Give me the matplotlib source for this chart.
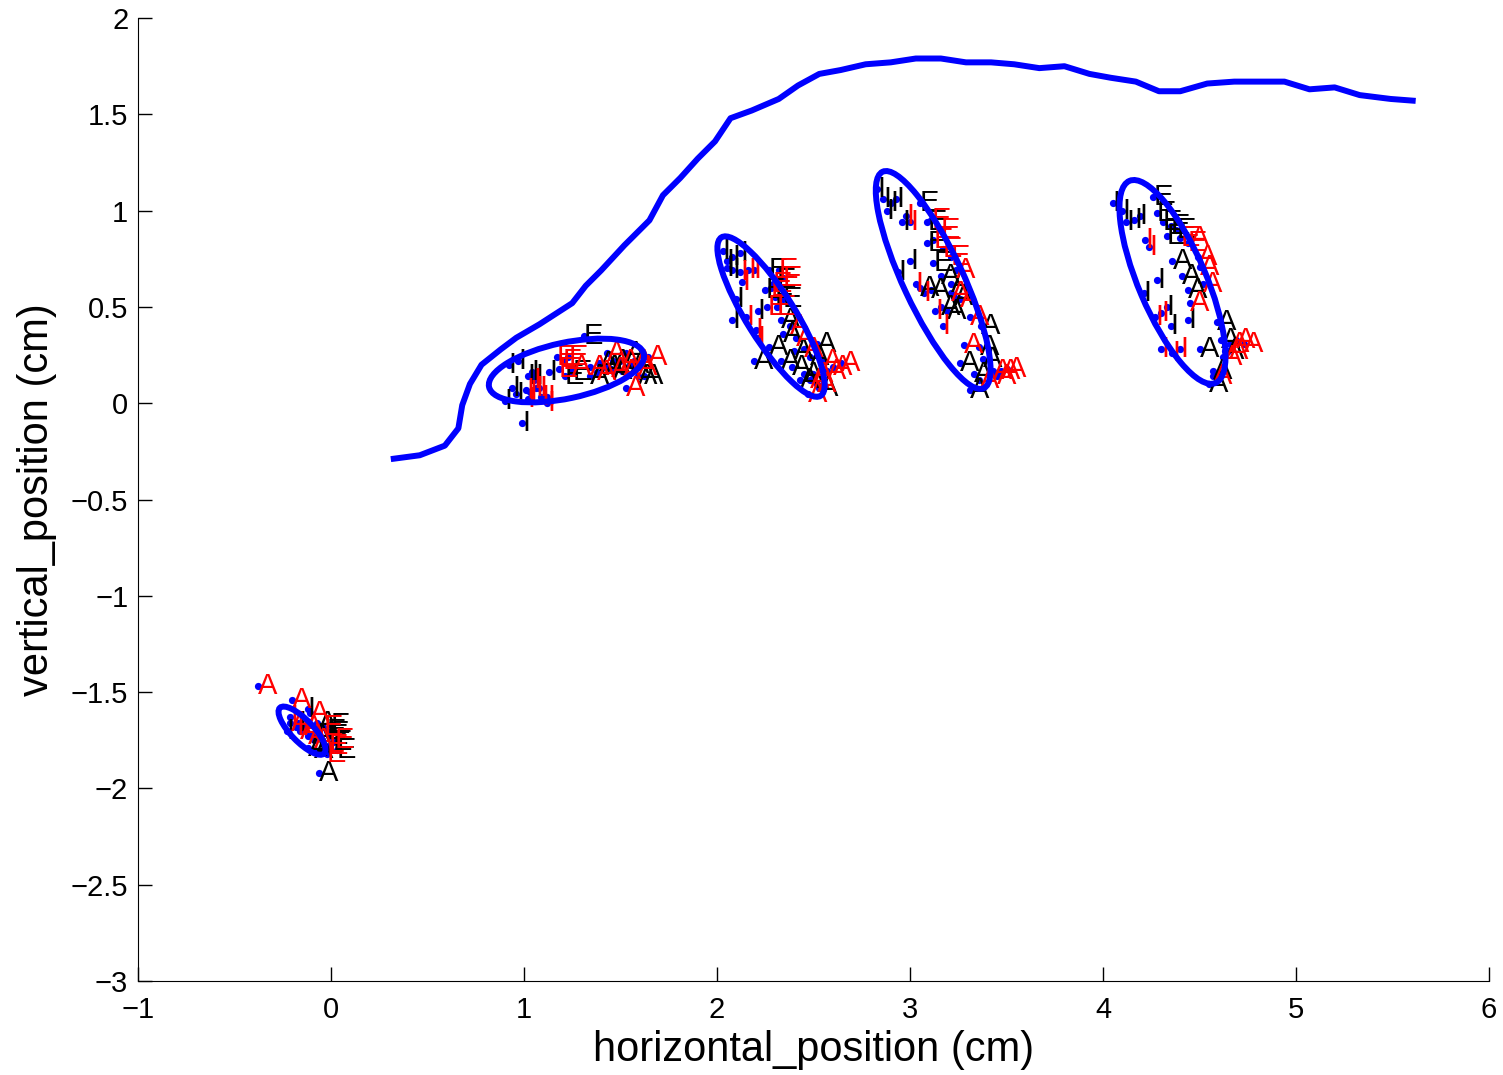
import matplotlib.pyplot as plt
from matplotlib.patches import Ellipse

plt.rcParams['font.family'] = ['Liberation Sans', 'DejaVu Sans']

# blue trace (cm)
trace_x = [0.31, 0.46, 0.59, 0.66, 0.68, 0.72, 0.78, 0.88, 0.96, 1.08, 1.25, 1.32,
           1.40, 1.52, 1.65, 1.72, 1.81, 1.90, 1.99, 2.07, 2.18, 2.32, 2.42, 2.53,
           2.64, 2.77, 2.90, 3.03, 3.16, 3.29, 3.42, 3.54, 3.67, 3.80, 3.93, 4.04,
           4.17, 4.29, 4.40, 4.54, 4.68, 4.81, 4.94, 5.07, 5.20, 5.33, 5.49, 5.62]
trace_y = [-0.29, -0.27, -0.22, -0.13, -0.01, 0.10, 0.20, 0.28, 0.34, 0.41, 0.52, 0.61,
           0.69, 0.82, 0.95, 1.08, 1.17, 1.27, 1.36, 1.48, 1.52, 1.58, 1.65, 1.71,
           1.73, 1.76, 1.77, 1.79, 1.79, 1.77, 1.77, 1.76, 1.74, 1.75, 1.71, 1.69,
           1.67, 1.62, 1.62, 1.66, 1.67, 1.67, 1.67, 1.63, 1.64, 1.60, 1.58, 1.57]

# token positions, first condition (black)
black_x = [0.90, 0.97, 0.99, 1.02, 1.04, 0.94, 1.06, 1.13, 0.92, 0.96,
           1.31, 1.21, 1.25,
           1.39, 1.46, 1.53, 1.59, 1.34, 1.46, 1.62, 1.42, 1.55,
           2.03, 2.05, 2.08, 2.12, 2.08, 2.10, 2.08, 2.21, 2.05,
           2.27, 2.31, 2.34, 2.25, 2.30,
           2.33, 2.34, 2.27, 2.19, 2.33, 2.39, 2.43, 2.52, 2.48, 2.53, 2.45, 2.40,
           2.83, 2.86, 2.90, 2.93, 2.96, 3.00, 2.94, 2.88,
           3.05, 3.09, 3.09, 3.12,
           3.05, 3.11, 3.16, 3.21, 3.16, 3.19, 3.37, 3.36, 3.38, 3.26, 3.31, 3.33, 3.23,
           4.05, 4.12, 4.16, 4.19, 4.21, 4.28, 4.33, 4.35, 4.44, 4.10,
           4.26, 4.28, 4.31, 4.35, 4.38, 4.33,
           4.36, 4.41, 4.44, 4.50, 4.59, 4.61, 4.57, 4.55, 4.63,
           -0.06, -0.07, -0.09, -0.12, -0.10,
           -0.01, 0.01, 0.03, -0.02, 0.00,
           -0.23, -0.12, -0.17]
black_y = [0.01, 0.22, -0.10, 0.14, 0.16, 0.08, 0.14, 0.16, 0.20, 0.05,
           0.35, 0.14, 0.16,
           0.21, 0.22, 0.26, 0.14, 0.14, 0.17, 0.14, 0.19, 0.20,
           0.79, 0.74, 0.76, 0.78, 0.69, 0.54, 0.43, 0.48, 0.70,
           0.69, 0.64, 0.54, 0.59, 0.55,
           0.43, 0.36, 0.29, 0.22, 0.22, 0.19, 0.12, 0.31, 0.24, 0.08, 0.15, 0.27,
           1.11, 1.06, 1.04, 1.06, 0.94, 0.74, 0.68, 1.00,
           1.04, 0.94, 0.83, 0.73,
           0.60, 0.59, 0.66, 0.62, 0.50, 0.48, 0.40, 0.29, 0.23, 0.21, 0.07, 0.15, 0.55,
           1.04, 0.94, 0.95, 0.97, 0.57, 0.64, 0.50, 0.40, 0.43, 1.00,
           1.07, 0.99, 0.94, 0.92, 0.90, 0.87,
           0.74, 0.66, 0.59, 0.28, 0.42, 0.33, 0.17, 0.10, 0.27,
           -1.92, -1.66, -1.80, -1.79, -1.72,
           -1.73, -1.76, -1.80, -1.70, -1.67,
           -1.70, -1.59, -1.66]
black_lab = list('IIIIIIIIII' + 'EEE' + 'AAAAAAAAA'
                 + 'IIIIIIIII' + 'EEEEE' + 'AAAAAAAAAAAA'
                 + 'IIIIIIII' + 'EEEE' + 'AAAAAAAAAAAAA'
                 + 'IIIIIIIIII' + 'EEEEEE' + 'AAAAAAAAA'
                 + 'AAAAA' + 'EEEEE' + 'III')

# token positions, second condition (red)
red_x = [1.01, 1.03, 1.06, 1.08, 1.12, 1.12, 1.02, 1.05, 1.09,
         1.17, 1.20, 1.23, 1.18,
         1.25, 1.43, 1.50, 1.53, 1.64, 1.59, 1.51, 1.34, 1.38, 1.45, 1.57,
         2.12, 2.16, 2.19, 2.15, 2.20, 2.21, 2.13,
         2.32, 2.34, 2.28, 2.26, 2.31, 2.29,
         2.38, 2.41, 2.45, 2.55, 2.60, 2.64, 2.48, 2.47, 2.57, 2.50, 2.52,
         2.98, 3.00, 3.07, 3.13, 3.17, 3.03,
         3.11, 3.16, 3.12, 3.17, 3.21,
         3.21, 3.26, 3.31, 3.43, 3.47, 3.50, 3.36, 3.24, 3.28, 3.45,
         4.22, 4.24, 4.30, 4.30, 4.36, 4.40, 4.27,
         4.40, 4.44,
         4.45, 4.49, 4.52, 4.45, 4.66, 4.69, 4.73, 4.62, 4.57, 4.50, 4.65,
         -0.38, -0.20, -0.21, -0.16, -0.12, -0.09, -0.11, -0.14,
         -0.04, -0.01, -0.02, 0.02,
         -0.21, -0.18]
red_y = [0.07, 0.06, 0.08, 0.08, 0.03, 0.00, 0.02, 0.12, 0.03,
         0.24, 0.22, 0.24, 0.18,
         0.19, 0.26, 0.22, 0.08, 0.24, 0.19, 0.17, 0.19, 0.16, 0.18, 0.22,
         0.68, 0.69, 0.69, 0.45, 0.38, 0.34, 0.63,
         0.69, 0.65, 0.60, 0.50, 0.50, 0.62,
         0.40, 0.34, 0.28, 0.22, 0.19, 0.21, 0.12, 0.05, 0.17, 0.15, 0.10,
         0.97, 0.94, 0.57, 0.48, 0.40, 0.62,
         0.95, 0.90, 0.85, 0.80, 0.76,
         0.57, 0.54, 0.45, 0.17, 0.17, 0.18, 0.12, 0.69, 0.30, 0.14,
         0.85, 0.81, 0.47, 0.28, 0.26, 0.28, 0.45,
         0.86, 0.83,
         0.86, 0.76, 0.62, 0.52, 0.31, 0.33, 0.31, 0.24, 0.14, 0.71, 0.27,
         -1.47, -1.54, -1.66, -1.70, -1.73, -1.75, -1.61, -1.68,
         -1.68, -1.78, -1.82, -1.75,
         -1.63, -1.68]
red_lab = list('IIIIIIIII' + 'EEEE' + 'AAAAAAAAAAA'
               + 'IIIIIII' + 'EEEEEE' + 'AAAAAAAAAAA'
               + 'IIIIII' + 'EEEEE' + 'AAAAAAAAAA'
               + 'IIIIIII' + 'EE' + 'AAAAAAAAAAA'
               + 'AAAAAAAA' + 'EEEE' + 'II')

# covariance ellipses: centre, full axes lengths, angle (deg)
ell_x = [1.22, 2.28, 3.12, 4.36, -0.15]
ell_y = [0.17, 0.45, 0.64, 0.63, -1.70]
ell_w = [0.82, 0.97, 1.24, 1.14, 0.33]
ell_h = [0.29, 0.25, 0.31, 0.35, 0.115]
ell_ang = [12, -58, -65, -67, -46]

xticks = [-1, 0, 1, 2, 3, 4, 5, 6]
xtick_labels = ['\u22121', '0', '1', '2', '3', '4', '5', '6']
yticks = [-3, -2.5, -2, -1.5, -1, -0.5, 0, 0.5, 1, 1.5, 2]
ytick_labels = ['\u22123', '\u22122.5', '\u22122', '\u22121.5', '\u22121', '\u22120.5',
                '0', '0.5', '1', '1.5', '2']

fig = plt.figure(figsize=(15.03, 10.75), dpi=100)
ax = fig.add_axes([0.0918, 0.0874, 0.8989, 0.8958])

ax.plot(trace_x, trace_y, color='#0000ff', lw=4.3, solid_capstyle='butt')

for x, y, s in zip(black_x, black_y, black_lab):
    ax.text(x, y, s, color='black', fontsize=21, ha='left', va='center')
for x, y, s in zip(red_x, red_y, red_lab):
    ax.text(x, y, s, color='red', fontsize=21, ha='left', va='center')

ax.plot(black_x + red_x, black_y + red_y, 'o', color='#0000ff', ms=5.2,
        mew=0, ls='none')

for cx, cy, w, h, a in zip(ell_x, ell_y, ell_w, ell_h, ell_ang):
    ax.add_patch(Ellipse((cx, cy), w, h, angle=a, fill=False,
                         edgecolor='#0000ff', lw=4.3, zorder=5))

ax.set_xlim(-1, 6)
ax.set_ylim(-3, 2)
ax.set_xticks(xticks)
ax.set_xticklabels(xtick_labels)
ax.set_yticks(yticks)
ax.set_yticklabels(ytick_labels)
ax.tick_params(direction='in', length=10, width=1, labelsize=21)
ax.tick_params(axis='x', pad=11)
ax.tick_params(axis='y', pad=7)
ax.spines['top'].set_visible(False)
ax.spines['right'].set_visible(False)
ax.set_xlabel('horizontal_position (cm)', fontsize=30, labelpad=4)
ax.set_ylabel('vertical_position (cm)', fontsize=30, labelpad=10)

fig.savefig('out.png', dpi=100)
